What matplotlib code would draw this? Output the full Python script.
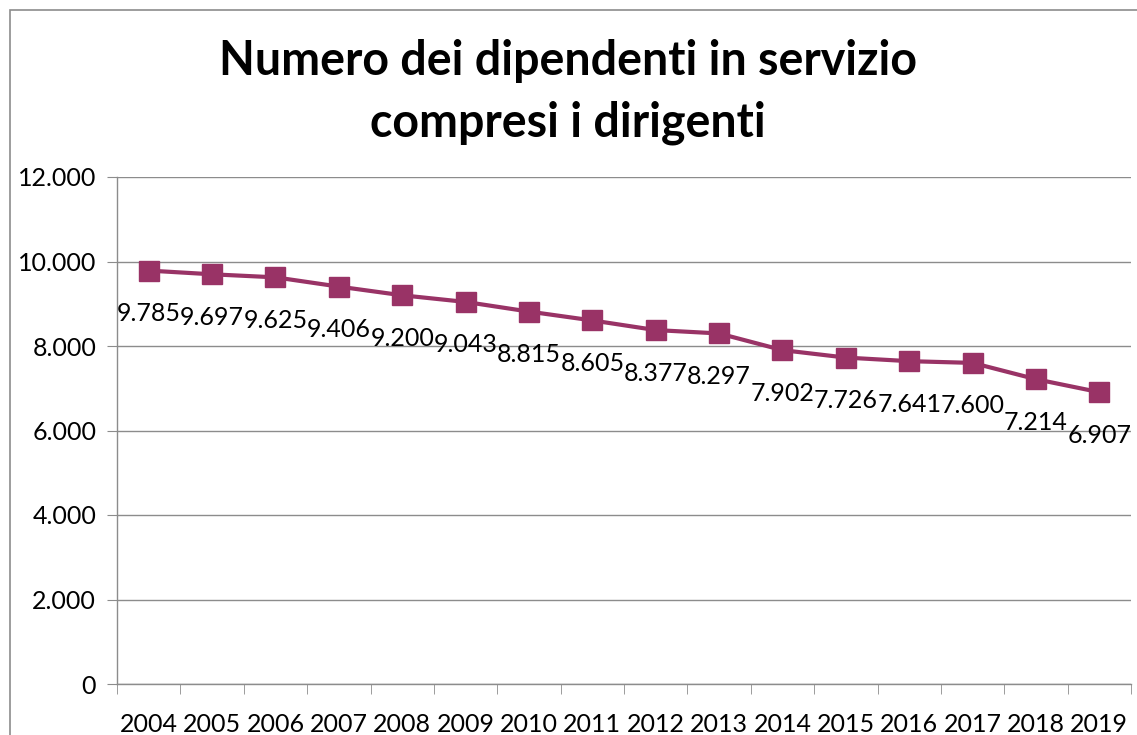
import matplotlib
matplotlib.use("Agg")
import matplotlib.pyplot as plt
from matplotlib.patches import Rectangle

years = ["2004", "2005", "2006", "2007", "2008", "2009", "2010", "2011",
         "2012", "2013", "2014", "2015", "2016", "2017", "2018", "2019"]
values = [9785, 9697, 9625, 9406, 9200, 9043, 8815, 8605,
          8377, 8297, 7902, 7726, 7641, 7600, 7214, 6907]
labels = ["9.785", "9.697", "9.625", "9.406", "9.200", "9.043", "8.815", "8.605",
          "8.377", "8.297", "7.902", "7.726", "7.641", "7.600", "7.214", "6.907"]
yticks = [0, 2000, 4000, 6000, 8000, 10000, 12000]
ytick_labels = ["0", "2.000", "4.000", "6.000", "8.000", "10.000", "12.000"]
title = "Numero dei dipendenti in servizio\ncompresi i dirigenti"

plt.rcParams['font.family'] = ['Lato', 'DejaVu Sans']

W, H = 1137, 735
fig = plt.figure(figsize=(W / 100, H / 100), dpi=100)
fig.patch.set_facecolor("white")

# outer chart frame
fig.add_artist(Rectangle((10 / W, -0.05), 1.1, 1 - 10 / H + 0.05, transform=fig.transFigure,
                         fill=False, edgecolor="#8c8c8c", linewidth=1.2))

left, right, top, bottom = 117, 1131, 177, 684
ax = fig.add_axes([left / W, (H - bottom) / H, (right - left) / W, (bottom - top) / H])

x = list(range(len(years)))
color = "#993366"
ax.plot(x, values, color=color, linewidth=3, marker="s", markersize=14.5,
        markerfacecolor=color, markeredgecolor=color, zorder=3)

fs = 18
for xi, v, lab in zip(x, values, labels):
    ax.annotate(lab, (xi, v), xytext=(0, -31), textcoords="offset points",
                ha="center", va="center", fontsize=fs, color="black")

ax.set_xlim(-0.5, len(years) - 0.5)
ax.set_ylim(0, 12000)
ax.set_yticks(yticks)
ax.set_yticklabels(ytick_labels, fontsize=fs)
ax.grid(axis="y", color="#8c8c8c", linewidth=1)
ax.set_axisbelow(True)

ax.set_xticks(x)
ax.set_xticklabels(years, fontsize=fs)
ax.tick_params(axis="x", which="major", length=0, pad=21)
ax.set_xticks([i - 0.5 for i in range(len(years) + 1)], minor=True)
ax.tick_params(axis="x", which="minor", length=7, color="#8c8c8c", direction="out")
ax.tick_params(axis="y", length=7, color="#8c8c8c", pad=8)

for s in ["top", "right"]:
    ax.spines[s].set_visible(False)
for s in ["left", "bottom"]:
    ax.spines[s].set_color("#8c8c8c")
    ax.spines[s].set_linewidth(1)

fig.text(568 / W, 1 - 92 / H, title, ha="center", va="center", fontsize=33.5,
         fontweight="bold", linespacing=1.5)

fig.savefig("out.png", dpi=100)
